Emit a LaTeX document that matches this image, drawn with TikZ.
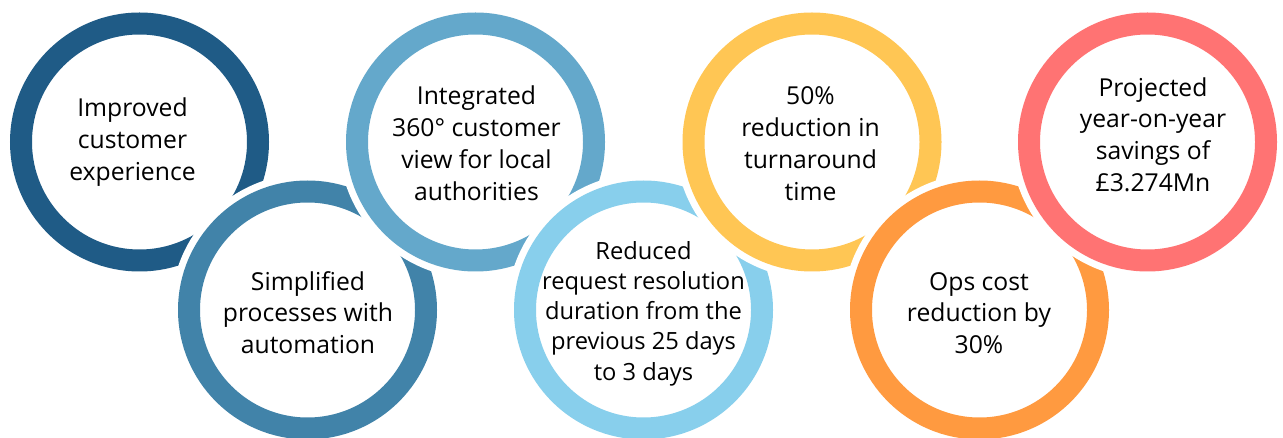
\documentclass[tikz,border=0pt]{standalone}
\usepackage{fontspec}
\setmainfont{Open Sans}
\definecolor{cA}{HTML}{1F5B86}
\definecolor{cB}{HTML}{4183A9}
\definecolor{cC}{HTML}{64A8CB}
\definecolor{cD}{HTML}{88CFEC}
\definecolor{cE}{HTML}{FFC654}
\definecolor{cF}{HTML}{FF9A40}
\definecolor{cG}{HTML}{FF7373}
\tikzset{
  ring/.style={circle, inner sep=0pt, minimum size=237pt, fill=white, draw=#1,
    line width=22pt, preaction={draw=white, line width=36pt}},
  lbl/.style={align=center, inner sep=0pt, anchor=center, text=black,
    font=\fontsize{24.7}{31.7}\selectfont},
  lblsmall/.style={lbl, font=\fontsize{23.7}{30.25}\selectfont}
}
\begin{document}
\begin{tikzpicture}[x=1pt,y=-1pt]
\useasboundingbox (0,0) rectangle (1283,438);
\node[ring=cA] (r1) at (139.5,142) {};
\node[ring=cB] (r2) at (307.5,310) {};
\node[ring=cC] (r3) at (475.5,142) {};
\node[ring=cD] (r4) at (643.5,310) {};
\node[ring=cE] (r5) at (812,142) {};
\node[ring=cF] (r6) at (979.5,310) {};
\node[ring=cG] (r7) at (1147.5,142) {};
\node[lbl] (t1) at (132.5,142) {\strut Improved\\\strut customer\\\strut experience};
\node[lbl] (t2) at (308,315.4) {\strut Simplified\\\strut processes with\\\strut automation};
\node[lbl] (t3) at (476.5,146.2) {\strut Integrated\\\strut 360° customer\\\strut view for local\\\strut authorities};
\node[lblsmall] (t4) at (643.5,313.5) {\strut Reduced\\\strut request resolution\\\strut duration from the\\\strut previous 25 days\\\strut to 3 days};
\node[lbl] (t5) at (810.5,146.2) {\strut 50\%\\\strut reduction in\\\strut turnaround\\\strut time};
\node[lbl] (t6) at (979,315.4) {\strut Ops cost\\\strut reduction by\\\strut 30\%};
\node[lbl] (t7) at (1153,137.5) {\strut Projected\\\strut year-on-year\\\strut savings of\\\strut £3.274Mn};
\end{tikzpicture}
\end{document}
